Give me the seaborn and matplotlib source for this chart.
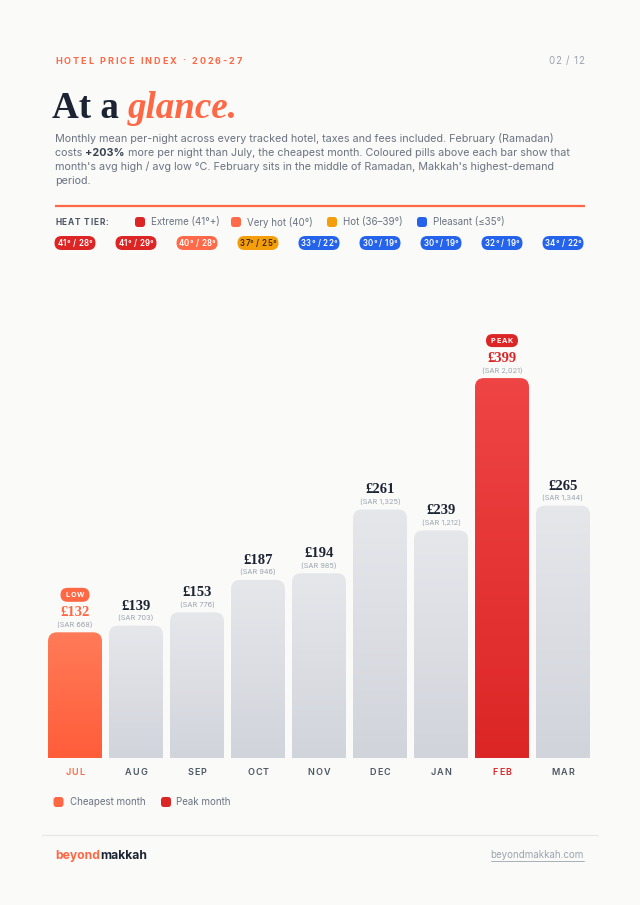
import numpy as np
import pandas as pd
import seaborn as sns
import matplotlib.pyplot as plt
from matplotlib.patches import FancyBboxPatch
from matplotlib.colors import LinearSegmentedColormap

# data
months = ["JUL", "AUG", "SEP", "OCT", "NOV", "DEC", "JAN", "FEB", "MAR"]
price_gbp = [132, 139, 153, 187, 194, 261, 239, 399, 265]
price_sar = ["668", "703", "776", "946", "985", "1,325", "1,212", "2,021", "1,344"]
temp_high = [41, 41, 40, 37, 33, 30, 30, 32, 34]
temp_low = [28, 29, 28, 25, 22, 19, 19, 19, 22]
heat_tier = ["Extreme", "Extreme", "Very hot", "Hot", "Pleasant",
             "Pleasant", "Pleasant", "Pleasant", "Pleasant"]
tier_keys = ["Extreme", "Very hot", "Hot", "Pleasant"]
tier_labels = ["Extreme (41°+)", "Very hot (40°)", "Hot (36–39°)", "Pleasant (≤35°)"]

BG = "#fafaf9"
ORANGE = "#ff6845"
RED = "#dc2626"
NAVY = "#1c2333"
TEXT = "#6b7280"
DARK = "#4b5563"
MUTED = "#9ca3af"
tier_colors = {"Extreme": "#dc2626", "Very hot": "#ff6b4a",
               "Hot": "#f59e0b", "Pleasant": "#2563eb"}

SANS = ["Inter", "DejaVu Sans"]
SERIF = ["Liberation Serif", "DejaVu Serif"]

sns.set_theme(style="white")
plt.rcParams["font.family"] = SANS

fig = plt.figure(figsize=(6.4, 9.05), dpi=100)
fig.patch.set_facecolor(BG)

# overlay axes in pixel units (y down) for all the page furniture
ov = fig.add_axes([0, 0, 1, 1])
ov.set_xlim(0, 640)
ov.set_ylim(905, 0)
ov.axis("off")
R = fig.canvas.get_renderer()


def text_w(s, **kw):
    t = ov.text(0, 0, s, **kw)
    w = t.get_window_extent(renderer=R).width
    t.remove()
    return w


def adv(s, **kw):
    return text_w("I" + s + "I", **kw) - text_w("II", **kw)


def spaced(x, y, s, track=0.0, ha="left", width=None, **kw):
    a = [adv(c, **kw) for c in s]
    if width is not None:
        track = (width - sum(a)) / (len(s) - 1)
    total = sum(a) + track * (len(s) - 1)
    if ha == "center":
        x -= total / 2
    elif ha == "right":
        x -= total
    for c, w in zip(s, a):
        ov.text(x, y, c, ha="left", va="center", **kw)
        x += w + track


def pill(cx, cy, w, h, color, label, tcolor="white", fs=5.5, track=0.5, weight="bold"):
    ov.add_patch(FancyBboxPatch((cx - w / 2, cy - h / 2), w, h,
                                boxstyle=f"round,pad=0,rounding_size={h / 2}",
                                fc=color, ec="none", zorder=3))
    spaced(cx, cy + 0.3, label, track, ha="center", fontsize=fs,
           color=tcolor, fontweight=weight, zorder=4)


def chip(cx, cy, color, s=10):
    ov.add_patch(FancyBboxPatch((cx - s / 2, cy - s / 2), s, s,
                                boxstyle="round,pad=0,rounding_size=2.8",
                                fc=color, ec="none"))


# header
spaced(55, 61, "HOTEL PRICE INDEX · 2026-27", width=187, fontsize=6.5,
       fontweight="bold", color=ORANGE)
spaced(584, 61, "02 / 12", 0.8, ha="right", fontsize=7, color=MUTED)

# title, fitted to the reference width
base = text_w("At a glance.", family=SERIF, fontweight="bold", fontsize=30)
tfs = 30 * 186 / base
ov.text(52, 118, "At a", family=SERIF, fontweight="bold", fontsize=tfs,
        color=NAVY, va="baseline")
gx = 52 + text_w("At a g", family=SERIF, fontweight="bold", fontsize=tfs) \
    - text_w("g", family=SERIF, fontweight="bold", fontsize=tfs)
ov.text(gx, 118, "glance.", family=SERIF, fontweight="bold", style="italic",
        fontsize=tfs, color=ORANGE, va="baseline")

# intro paragraph
line1 = "Monthly mean per-night across every tracked hotel, taxes and fees included. February (Ramadan)"
pfs = 9 * 500 / text_w(line1, fontsize=9)
ys = [139, 153, 166.8, 180.5]
ov.text(55, ys[0], line1, fontsize=pfs, color=TEXT, va="center")
x = 55
for part, wt, col in [("costs ", "normal", TEXT), ("+203%", "bold", "#374151"),
                      (" more per night than July, the cheapest month. Coloured pills above each bar show that",
                       "normal", TEXT)]:
    ov.text(x, ys[1], part, fontsize=pfs, fontweight=wt, color=col, va="center")
    x += adv(part, fontsize=pfs, fontweight=wt)
ov.text(55, ys[2], "month's avg high / avg low °C. February sits in the middle of Ramadan, Makkah's highest-demand",
        fontsize=pfs, color=TEXT, va="center")
ov.text(55, ys[3], "period.", fontsize=pfs, color=TEXT, va="center")

ov.plot([55, 585], [206, 206], color=ORANGE, lw=1.6, solid_capstyle="butt")

# heat tier legend
spaced(55, 222, "HEAT TIER:", width=53, fontsize=6, fontweight="bold", color=DARK)
for cx, key, lab in zip([140, 236, 332, 422], tier_keys, tier_labels):
    chip(cx, 222, tier_colors[key])
    ov.text(cx + 11, 222, lab, fontsize=7, color=TEXT, va="center")

# bar chart
ax = fig.add_axes([44.5 / 640, (905 - 758) / 905, 549 / 640, 458 / 905])
ax.patch.set_alpha(0)
df = pd.DataFrame({"month": months, "gbp": price_gbp})
sns.barplot(data=df, x="month", y="gbp", order=months, width=0.885,
            color="#d8dae0", saturation=1, ax=ax)

lo = int(np.argmin(price_gbp))
hi = int(np.argmax(price_gbp))
px_x = 549 / 9
px_y = 458 / 481
rad = 9
for i, p in enumerate(list(ax.patches)):
    x0, w, h = p.get_x(), p.get_width(), p.get_height()
    p.set_visible(False)
    if i == lo:
        top, bot = "#ff7b58", "#ff5d3a"
    elif i == hi:
        top, bot = "#ef4444", "#dc2626"
    else:
        top, bot = "#e6e7eb", "#d1d4db"
    clip = FancyBboxPatch((x0, -40), w, h + 40,
                          boxstyle=f"round,pad=0,rounding_size={rad / px_x}",
                          mutation_aspect=px_x / px_y, fc="none", ec="none")
    ax.add_patch(clip)
    cmap = LinearSegmentedColormap.from_list("g", [bot, top])
    im = ax.imshow(np.linspace(0, 1, 64).reshape(-1, 1), extent=[x0, x0 + w, 0, h],
                   origin="lower", cmap=cmap, aspect="auto", interpolation="bilinear", zorder=2)
    im.set_clip_path(clip)

ax.set_xlim(-0.5, 8.5)
ax.set_ylim(0, 481)
ax.axis("off")


def to_px(xv, yv):
    xd, yd = ax.transData.transform((xv, yv))
    return xd, 905 - yd


for i, (g, s) in enumerate(zip(price_gbp, price_sar)):
    cx, ty = to_px(i, g)
    col = ORANGE if i == lo else RED if i == hi else NAVY
    ov.text(cx, ty - 19.5, f"£{g}", ha="center", va="center", family=SERIF,
            fontweight="bold", fontsize=10.5, color=col)
    ov.text(cx, ty - 7.8, f"(SAR {s})", ha="center", va="center",
            fontsize=5.3, color=MUTED)
    mcol = ORANGE if i == lo else RED if i == hi else DARK
    spaced(cx, 772, months[i], 0.9, ha="center", fontsize=6.5,
           fontweight="semibold", color=mcol)
    # temperature pill
    tcol = tier_colors[heat_tier[i]]
    pill(cx, 243, 41, 14, tcol, f"{temp_high[i]}° / {temp_low[i]}°",
         tcolor="#3b2a05" if heat_tier[i] == "Hot" else "white", fs=5.7, track=0.25,
         weight="semibold")

cx, ty = to_px(lo, price_gbp[lo])
pill(cx, ty - 37.5, 29, 14, ORANGE, "LOW", fs=5.2, track=0.9)
cx, ty = to_px(hi, price_gbp[hi])
pill(cx, ty - 37.5, 32, 13, RED, "PEAK", fs=5.2, track=0.9)

# bottom legend
chip(58.5, 802, ORANGE)
ov.text(70, 802, "Cheapest month", fontsize=7, color=TEXT, va="center")
chip(166, 802, RED)
ov.text(176, 802, "Peak month", fontsize=7, color=TEXT, va="center")

ov.plot([42, 598], [835, 835], color="#e6e6e4", lw=0.8)

# footer
ffs = 8.5 * 92 / text_w("beyondmakkah", fontsize=8.5, fontweight="bold")
ov.text(55, 856, "beyond", fontsize=ffs, fontweight="bold", color=ORANGE, va="center")
ov.text(55 + adv("beyond", fontsize=ffs, fontweight="bold"), 856, "makkah",
        fontsize=ffs, fontweight="bold", color=NAVY, va="center")
site_w = text_w("beyondmakkah.com", fontsize=7)
ov.text(584, 855, "beyondmakkah.com", fontsize=7, color=MUTED, va="center", ha="right")
ov.plot([584 - site_w, 584], [861, 861], color=MUTED, lw=0.6)

fig.savefig("out.png", dpi=100, facecolor=BG)
